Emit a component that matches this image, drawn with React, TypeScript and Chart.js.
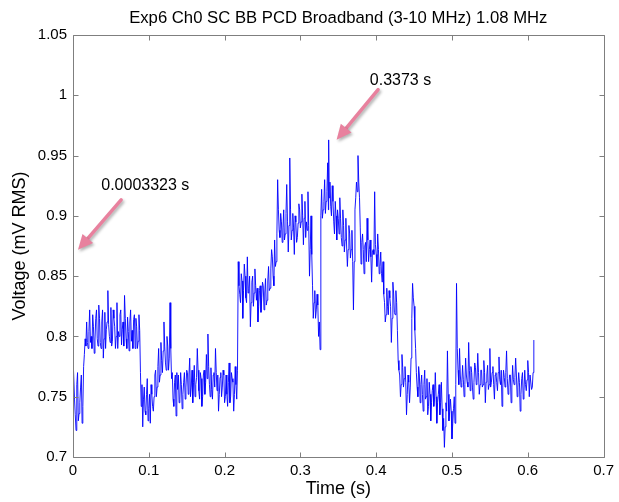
import { useEffect, useRef } from "react";
import { Chart, registerables } from "chart.js";

Chart.register(...registerables);

// Broadband PCD RMS voltage, sampled every 1 ms (first sample at 1 ms)
const sampleStep = 0.001;
const startVolt = 0.745; // value at t = 0

const volts001to050 = [
  0.772, 0.748, 0.735, 0.722, 0.760, 0.770, 0.730, 0.736, 0.745, 0.758,
  0.768, 0.728, 0.742, 0.775, 0.785, 0.798, 0.792, 0.812, 0.795, 0.790,
  0.804, 0.822, 0.795, 0.800, 0.790, 0.818, 0.808, 0.786, 0.797, 0.815,
  0.822, 0.798, 0.792, 0.826, 0.815, 0.795, 0.790, 0.812, 0.822, 0.782,
  0.798, 0.820, 0.790, 0.806, 0.812, 0.838, 0.810, 0.800, 0.795, 0.824,
];
const volts051to100 = [
  0.792, 0.796, 0.822, 0.815, 0.808, 0.790, 0.800, 0.828, 0.790, 0.804,
  0.800, 0.818, 0.822, 0.793, 0.806, 0.812, 0.792, 0.834, 0.815, 0.798,
  0.790, 0.816, 0.804, 0.788, 0.812, 0.822, 0.796, 0.805, 0.790, 0.814,
  0.818, 0.790, 0.815, 0.808, 0.790, 0.796, 0.818, 0.805, 0.770, 0.742,
  0.760, 0.725, 0.748, 0.758, 0.738, 0.735, 0.752, 0.765, 0.730, 0.740,
];
const volts101to150 = [
  0.752, 0.728, 0.760, 0.752, 0.742, 0.738, 0.750, 0.768, 0.772, 0.750,
  0.758, 0.775, 0.790, 0.762, 0.768, 0.795, 0.780, 0.770, 0.788, 0.812,
  0.792, 0.778, 0.772, 0.800, 0.792, 0.772, 0.782, 0.828, 0.790, 0.765,
  0.770, 0.748, 0.742, 0.762, 0.768, 0.734, 0.770, 0.756, 0.768, 0.745,
  0.748, 0.770, 0.760, 0.740, 0.752, 0.762, 0.770, 0.748, 0.758, 0.772,
];
const volts151to200 = [
  0.770, 0.752, 0.768, 0.782, 0.750, 0.758, 0.772, 0.745, 0.762, 0.776,
  0.750, 0.760, 0.766, 0.790, 0.772, 0.755, 0.748, 0.770, 0.765, 0.742,
  0.750, 0.768, 0.772, 0.752, 0.762, 0.785, 0.765, 0.802, 0.775, 0.760,
  0.750, 0.774, 0.756, 0.748, 0.768, 0.770, 0.758, 0.790, 0.770, 0.755,
  0.768, 0.738, 0.752, 0.766, 0.770, 0.750, 0.758, 0.772, 0.768, 0.745,
];
const volts201to250 = [
  0.750, 0.768, 0.752, 0.742, 0.762, 0.778, 0.745, 0.750, 0.770, 0.765,
  0.762, 0.738, 0.752, 0.775, 0.760, 0.748, 0.772, 0.862, 0.842, 0.835,
  0.828, 0.852, 0.846, 0.815, 0.838, 0.860, 0.850, 0.832, 0.828, 0.866,
  0.836, 0.840, 0.850, 0.808, 0.828, 0.845, 0.850, 0.825, 0.836, 0.856,
  0.842, 0.830, 0.840, 0.812, 0.825, 0.838, 0.842, 0.820, 0.832, 0.845,
];
const volts251to300 = [
  0.842, 0.822, 0.836, 0.848, 0.826, 0.830, 0.846, 0.858, 0.838, 0.840,
  0.856, 0.872, 0.866, 0.850, 0.842, 0.880, 0.858, 0.862, 0.885, 0.930,
  0.905, 0.888, 0.882, 0.902, 0.895, 0.878, 0.890, 0.905, 0.880, 0.885,
  0.902, 0.926, 0.895, 0.870, 0.892, 0.948, 0.905, 0.880, 0.888, 0.902,
  0.890, 0.868, 0.900, 0.895, 0.878, 0.882, 0.894, 0.910, 0.905, 0.890,
];
const volts301to350 = [
  0.895, 0.918, 0.900, 0.876, 0.898, 0.912, 0.882, 0.895, 0.888, 0.920,
  0.892, 0.850, 0.872, 0.900, 0.868, 0.842, 0.815, 0.828, 0.838, 0.815,
  0.822, 0.835, 0.826, 0.800, 0.812, 0.789, 0.900, 0.922, 0.898, 0.905,
  0.912, 0.930, 0.902, 0.912, 0.920, 0.944, 0.905, 0.915, 0.928, 0.908,
  0.900, 0.925, 0.912, 0.895, 0.885, 0.912, 0.900, 0.880, 0.905, 0.898,
];
const volts351to400 = [
  0.885, 0.915, 0.898, 0.882, 0.875, 0.905, 0.892, 0.870, 0.880, 0.898,
  0.875, 0.858, 0.872, 0.892, 0.885, 0.865, 0.872, 0.888, 0.862, 0.822,
  0.862, 0.905, 0.915, 0.928, 0.920, 0.950, 0.928, 0.915, 0.890, 0.860,
  0.878, 0.885, 0.872, 0.852, 0.875, 0.878, 0.862, 0.898, 0.880, 0.862,
  0.872, 0.880, 0.866, 0.845, 0.870, 0.872, 0.868, 0.920, 0.876, 0.868,
];
const volts401to450 = [
  0.858, 0.885, 0.872, 0.852, 0.858, 0.870, 0.852, 0.845, 0.862, 0.835,
  0.828, 0.812, 0.818, 0.840, 0.825, 0.818, 0.838, 0.832, 0.825, 0.795,
  0.815, 0.845, 0.836, 0.820, 0.818, 0.838, 0.828, 0.805, 0.780, 0.772,
  0.768, 0.750, 0.760, 0.785, 0.774, 0.758, 0.765, 0.775, 0.762, 0.735,
  0.752, 0.768, 0.762, 0.745, 0.758, 0.782, 0.815, 0.844, 0.832, 0.825,
];
const volts451to500 = [
  0.805, 0.790, 0.770, 0.758, 0.750, 0.775, 0.768, 0.745, 0.760, 0.768,
  0.752, 0.738, 0.760, 0.772, 0.748, 0.750, 0.765, 0.735, 0.742, 0.762,
  0.752, 0.730, 0.745, 0.755, 0.760, 0.742, 0.748, 0.770, 0.750, 0.728,
  0.745, 0.752, 0.760, 0.735, 0.745, 0.762, 0.740, 0.722, 0.732, 0.708,
  0.725, 0.745, 0.738, 0.788, 0.752, 0.730, 0.738, 0.748, 0.738, 0.715,
];
const volts501to550 = [
  0.728, 0.740, 0.750, 0.728, 0.760, 0.844, 0.790, 0.772, 0.760, 0.790,
  0.768, 0.758, 0.762, 0.776, 0.764, 0.750, 0.760, 0.782, 0.768, 0.762,
  0.758, 0.795, 0.772, 0.755, 0.775, 0.770, 0.758, 0.748, 0.762, 0.778,
  0.774, 0.760, 0.762, 0.786, 0.770, 0.752, 0.760, 0.772, 0.772, 0.758,
  0.760, 0.780, 0.770, 0.745, 0.762, 0.768, 0.776, 0.756, 0.760, 0.790,
];
const volts551to608 = [
  0.758, 0.762, 0.770, 0.775, 0.760, 0.748, 0.768, 0.770, 0.762, 0.755,
  0.770, 0.783, 0.764, 0.760, 0.772, 0.742, 0.758, 0.772, 0.766, 0.758,
  0.770, 0.788, 0.765, 0.752, 0.758, 0.768, 0.768, 0.745, 0.758, 0.776,
  0.764, 0.760, 0.766, 0.782, 0.768, 0.750, 0.758, 0.770, 0.762, 0.738,
  0.752, 0.765, 0.770, 0.748, 0.755, 0.772, 0.760, 0.755, 0.764, 0.780,
  0.770, 0.750, 0.768, 0.768, 0.756, 0.758, 0.770, 0.797,
];

// Marked peaks (time in s, voltage in mV RMS)
const peakTimes = [0.0003323, 0.3373];
const peakVolts = [0.875, 0.963];

const xTickValues = [0, 0.1, 0.2, 0.3, 0.4, 0.5, 0.6, 0.7];
const xTickLabels = ["0", "0.1", "0.2", "0.3", "0.4", "0.5", "0.6", "0.7"];
const yTickValues = [0.7, 0.75, 0.8, 0.85, 0.9, 0.95, 1, 1.05];
const yTickLabels = ["0.7", "0.75", "0.8", "0.85", "0.9", "0.95", "1", "1.05"];

const titleText = "Exp6 Ch0 SC BB PCD Broadband (3-10 MHz) 1.08 MHz";

// Callout placement in axis units: text anchor, arrow tail, arrow tip
const callouts = [
  { text: [0.0373, 0.925], tail: [0.0635, 0.9133], tip: [0.0066, 0.8718] },
  { text: [0.3916, 1.0122], tail: [0.4025, 1.0047], tip: [0.3478, 0.9632] },
];

const FONT = "'Liberation Sans', Arial, Helvetica, sans-serif";
const AXIS_GRAY = "#7f7f7f";
const ARROW_PINK = "#e8819e";

function buildPoints() {
  const sampled = [
    ...volts001to050, ...volts051to100, ...volts101to150, ...volts151to200,
    ...volts201to250, ...volts251to300, ...volts301to350, ...volts351to400,
    ...volts401to450, ...volts451to500, ...volts501to550, ...volts551to608,
  ];
  const pts = [{ x: 0, y: startVolt }];
  sampled.forEach((v, i) => pts.push({ x: +((i + 1) * sampleStep).toFixed(4), y: v }));
  peakTimes.forEach((t, i) => pts.push({ x: t, y: peakVolts[i] }));
  pts.sort((a, b) => a.x - b.x);
  return pts;
}

function drawArrow(ctx: CanvasRenderingContext2D, x1: number, y1: number, x2: number, y2: number) {
  const ang = Math.atan2(y2 - y1, x2 - x1);
  const headLen = 15;
  const headHalf = 7;
  const bx = x2 - headLen * Math.cos(ang);
  const by = y2 - headLen * Math.sin(ang);
  const nx = -Math.sin(ang);
  const ny = Math.cos(ang);
  ctx.save();
  ctx.shadowColor = "rgba(0,0,0,0.30)";
  ctx.shadowBlur = 3;
  ctx.shadowOffsetX = 1.5;
  ctx.shadowOffsetY = 2;
  ctx.strokeStyle = ARROW_PINK;
  ctx.fillStyle = ARROW_PINK;
  ctx.lineWidth = 3.5;
  ctx.lineCap = "round";
  ctx.beginPath();
  ctx.moveTo(x1, y1);
  ctx.lineTo(bx + 1.5 * Math.cos(ang), by + 1.5 * Math.sin(ang));
  ctx.stroke();
  ctx.beginPath();
  ctx.moveTo(x2, y2);
  ctx.lineTo(bx + nx * headHalf, by + ny * headHalf);
  ctx.lineTo(bx - nx * headHalf, by - ny * headHalf);
  ctx.closePath();
  ctx.fill();
  ctx.restore();
}

const framePlugin = {
  id: "frameAndNotes",
  afterDraw(chart: any) {
    const { ctx, chartArea } = chart;
    const xs = chart.scales.x;
    const ys = chart.scales.y;
    const { left, right, top, bottom } = chartArea;
    ctx.save();

    // box with inward tick marks on all four sides
    ctx.strokeStyle = AXIS_GRAY;
    ctx.lineWidth = 1;
    const L = Math.round(left) + 0.5;
    const R = Math.round(right) + 0.5;
    const T = Math.round(top) + 0.5;
    const B = Math.round(bottom) + 0.5;
    ctx.beginPath();
    ctx.rect(L, T, R - L, B - T);
    const tk = 5;
    xTickValues.forEach((v) => {
      const px = Math.round(xs.getPixelForValue(v)) + 0.5;
      ctx.moveTo(px, B);
      ctx.lineTo(px, B - tk);
      ctx.moveTo(px, T);
      ctx.lineTo(px, T + tk);
    });
    yTickValues.forEach((v) => {
      const py = Math.round(ys.getPixelForValue(v)) + 0.5;
      ctx.moveTo(L, py);
      ctx.lineTo(L + tk, py);
      ctx.moveTo(R, py);
      ctx.lineTo(R - tk, py);
    });
    ctx.stroke();

    // title
    ctx.fillStyle = "#000";
    ctx.font = `16.7px ${FONT}`;
    ctx.textAlign = "center";
    ctx.textBaseline = "middle";
    ctx.fillText(titleText, (left + right) / 2, 18);

    // peak callouts
    callouts.forEach((c, i) => {
      drawArrow(
        ctx,
        xs.getPixelForValue(c.tail[0]), ys.getPixelForValue(c.tail[1]),
        xs.getPixelForValue(c.tip[0]), ys.getPixelForValue(c.tip[1])
      );
      ctx.fillStyle = "#000";
      ctx.font = `16px ${FONT}`;
      ctx.textAlign = "left";
      ctx.textBaseline = "middle";
      ctx.fillText(`${peakTimes[i]} s`, xs.getPixelForValue(c.text[0]), ys.getPixelForValue(c.text[1]));
    });
    ctx.restore();
  },
};

export default function App() {
  const canvasRef = useRef<HTMLCanvasElement | null>(null);

  useEffect(() => {
    const canvas = canvasRef.current;
    if (!canvas) return;
    const chart = new Chart(canvas, {
      type: "line",
      data: {
        datasets: [
          {
            data: buildPoints(),
            borderColor: "#0000ff",
            borderWidth: 0.9,
            pointRadius: 0,
            tension: 0,
            fill: false,
          },
        ],
      },
      options: {
        animation: false,
        responsive: false,
        devicePixelRatio: 1,
        events: [],
        layout: { padding: { top: 35, right: 13, left: 0, bottom: 0 } },
        plugins: {
          legend: { display: false },
          tooltip: { enabled: false },
          title: { display: false },
        },
        scales: {
          x: {
            type: "linear",
            min: 0,
            max: 0.7,
            grid: { display: false, drawTicks: false },
            border: { display: false },
            afterBuildTicks: (s: any) => {
              s.ticks = xTickValues.map((value) => ({ value }));
            },
            afterFit: (s: any) => {
              s.height = 45;
            },
            ticks: {
              autoSkip: false,
              maxRotation: 0,
              padding: 5,
              color: "#000",
              font: { family: FONT, size: 15 },
              callback: (_v: any, i: number) => xTickLabels[i],
            },
            title: {
              display: true,
              text: "Time (s)",
              color: "#000",
              font: { family: FONT, size: 18 },
              padding: { top: 0, bottom: 2 },
            },
          },
          y: {
            type: "linear",
            min: 0.7,
            max: 1.05,
            grid: { display: false, drawTicks: false },
            border: { display: false },
            afterBuildTicks: (s: any) => {
              s.ticks = yTickValues.map((value) => ({ value }));
            },
            afterFit: (s: any) => {
              s.width = 73;
            },
            ticks: {
              autoSkip: false,
              padding: 6,
              color: "#000",
              font: { family: FONT, size: 15 },
              callback: (_v: any, i: number) => yTickLabels[i],
            },
            title: {
              display: true,
              text: "Voltage (mV RMS)",
              color: "#000",
              font: { family: FONT, size: 18 },
              padding: { top: 9, bottom: 0 },
            },
          },
        },
      },
      plugins: [framePlugin],
    });
    return () => chart.destroy();
  }, []);

  return (
    <div style={{ position: "fixed", left: 0, top: 0, width: 619, height: 502, background: "#fff" }}>
      <canvas ref={canvasRef} width={619} height={502} />
    </div>
  );
}
